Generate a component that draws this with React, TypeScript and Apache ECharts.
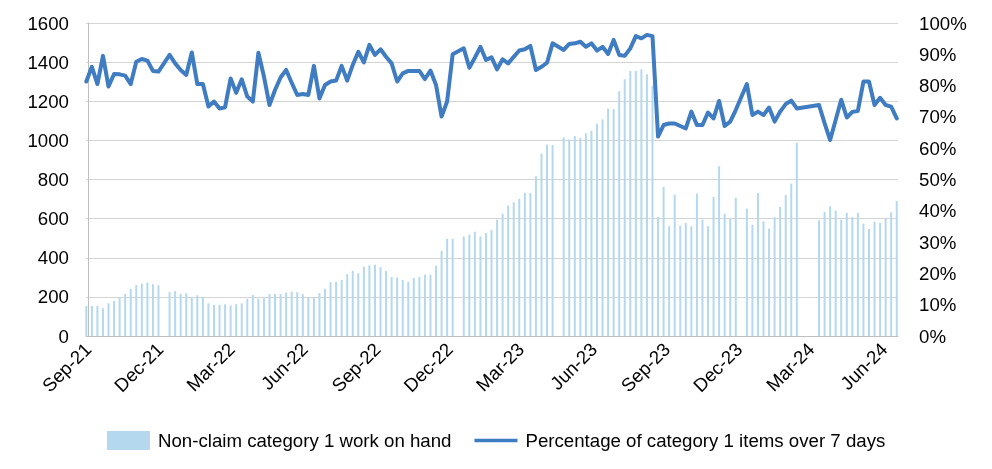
import React, { useEffect, useRef } from "react";
import * as echarts from "echarts";

// Weekly observations (first week starting Aug 30, 2021)
const firstWeek = [2021, 7, 30];

// Non-claim category 1 work on hand (null = no data that week)
const workOnHand: (number | null)[] = [
  154, 154, 154, 142, 167, 179, 197, 215, 241, 261, 268, 273, 265, 260, null,
  224, 229, 215, 219, 197, 208, 198, 167, 159, 159,
  162, 156, 162, 167, 190, 210, 191, 193, 215, 215, 215, 222, 227, 224, 214,
  198, 198, 219, 241, 275, 277, 287, 316, 333, 321,
  355, 361, 364, 352, 332, 301, 299, 287, 277, 296, 302, 314, 314, 359, 436,
  497, 497, null, 509, 518, 533, 509, 526, 542,
  595, 625, 667, 684, 701, 731, 731, 817, 933, 978, 976, null, 1015, 1005,
  1022, 1012, 1036, 1049, 1085, 1107, 1162, 1159, 1251, 1313, 1355,
  1355, 1364, 1338, 1280, 608, 762, 561, 723, 564, 578, 561, 728, 595, 561,
  711, 868, 625, 598, 706, null, 651, 569, 731, 586,
  549, 607, 660, 720, 779, 988, null, null, null, 591, 634, 663, 641, 595,
  629, 608, 629, 574, 547, 584, 578, 602, 632, 690,
];

// Percentage of category 1 items over 7 days
const pctOver7Days: (number | null)[] = [
  81.3, 86, 80.5, 89.5, 79.7, 83.7, 83.6, 83.2, 80.5, 87.6, 88.5, 88, 84.7,
  84.5, null, 89.8, 87.1, 85, 83.4, 90.6, 80.5, 80.5, 73.3, 74.9, 72.7,
  73.1, 82.3, 77.7, 82, 76.5, 74.9, 90.5, 82.9, 73.8, 78.6, 82.6, 85, 80.9,
  77, 77.3, 77, 86.3, 75.9, 80.2, 81.3, 81.6, 86.3, 81.6, 86.6, 90.8,
  87.4, 93, 89.8, 91.6, 89.2, 87.1, 81.3, 83.9, 84.7, 84.7, 84.7, 82.1, 84.8,
  80.2, 70.1, 74.9, 90, null, 91.9, 85.7, 88.9, 92.4, 88.2, 89,
  85.2, 88.4, 87.1, 89.2, 91.2, 91.6, 92.7, 85, 86, 87.3, 93.5, null, 91.4,
  93.3, 93.5, 94, 92.4, 93.5, 91.2, 92.4, 90.1, 94.6, 89.8, 89.5, 91.9,
  95.8, 95.1, 96.2, 95.8, 63.7, 67.4, 67.9, 67.9, 67.1, 66.3, 71.7, 67.4,
  67.4, 71.4, 69.5, 75.1, 67.1, 68.5, 72.2, null, 80.5, 70.6, 71.7, 70.6,
  73, 68.5, 71.7, 74.1, 75.2, 72.7, null, null, null, 73.8, 68, 62.6, 69,
  75.5, 69.8, 71.6, 71.9, 81.3, 81.3, 73.8, 76.1, 73.8, 73.3, 69.5,
];

// Quarterly tick labels on the date axis
const tickLabels = [
  "Sep-21", "Dec-21", "Mar-22", "Jun-22", "Sep-22", "Dec-22",
  "Mar-23", "Jun-23", "Sep-23", "Dec-23", "Mar-24", "Jun-24",
];
const firstTickMonth = [2021, 8]; // September 2021

const leftTicks = { min: 0, max: 1600, interval: 200 };
const rightTicks = { min: 0, max: 100, interval: 10 };

const barName = "Non-claim category 1 work on hand";
const lineName = "Percentage of category 1 items over 7 days";

export default function App() {
  const ref = useRef<HTMLDivElement>(null);

  useEffect(() => {
    if (!ref.current) return;
    const chart = echarts.init(ref.current, null, { renderer: "svg" });

    const day = 86400000;
    const origin = Date.UTC(firstTickMonth[0], firstTickMonth[1], 1);
    const toDay = (t: number) => Math.round((t - origin) / day);

    const weeks = workOnHand.map((_, i) =>
      toDay(Date.UTC(firstWeek[0], firstWeek[1], firstWeek[2] + 7 * i))
    );
    const tickDays = tickLabels.map((_, k) =>
      toDay(Date.UTC(firstTickMonth[0], firstTickMonth[1] + 3 * k, 1))
    );
    const labelMap = new Map<number, string>();
    tickDays.forEach((d, k) => labelMap.set(d, tickLabels[k]));

    const font = "'Liberation Sans', Arial, sans-serif";
    const fs = 18.67;
    const gridColor = "#D4D4D4";

    chart.setOption({
      animation: false,
      textStyle: { fontFamily: font },
      grid: { left: 86, right: 94, top: 23, bottom: 133, containLabel: false },
      legend: {
        left: 102,
        top: 426,
        itemWidth: 43,
        itemHeight: 19,
        itemGap: 23,
        textStyle: { fontSize: fs, color: "#000", fontFamily: font, padding: [0, 0, 0, 3] },
        data: [
          { name: barName, icon: "rect" },
          { name: lineName, icon: "path://M0,0 L46,0 L46,4 L0,4 Z" },
        ],
      },
      xAxis: {
        type: "value",
        min: weeks[0] - 0.4,
        max: weeks[weeks.length - 1] + 1.6,
        axisLine: { show: true, onZero: false, lineStyle: { color: "#BFBFBF", width: 1 } },
        axisTick: { show: false },
        splitLine: { show: false },
        axisLabel: {
          customValues: tickDays,
          rotate: 45,
          fontSize: fs,
          color: "#000",
          margin: 10,
          fontFamily: font,
          formatter: (v: number) => labelMap.get(Math.round(v)) ?? "",
        },
      },
      yAxis: [
        {
          type: "value",
          ...leftTicks,
          axisLine: { show: true, lineStyle: { color: "#BFBFBF", width: 1 } },
          axisTick: { show: false },
          splitLine: { show: true, lineStyle: { color: gridColor, width: 1 } },
          axisLabel: {
            fontSize: fs,
            color: "#000",
            margin: 17,
            fontFamily: font,
            formatter: (v: number) => String(v),
          },
        },
        {
          type: "value",
          ...rightTicks,
          axisLine: { show: false },
          axisTick: { show: false },
          splitLine: { show: false },
          axisLabel: {
            fontSize: fs,
            color: "#000",
            margin: 21,
            fontFamily: font,
            formatter: "{value}%",
          },
        },
      ],
      series: [
        {
          name: barName,
          type: "bar",
          yAxisIndex: 0,
          barWidth: 2,
          itemStyle: { color: "#B4D8EE" },
          data: weeks.map((d, i) => [d, workOnHand[i]]),
        },
        {
          name: lineName,
          type: "line",
          yAxisIndex: 1,
          symbol: "none",
          showSymbol: false,
          connectNulls: true,
          lineStyle: { color: "#3F7CC1", width: 4, cap: "round", join: "round" },
          itemStyle: { color: "#3F7CC1" },
          data: weeks.map((d, i) => [d, pctOver7Days[i]]),
          z: 3,
        },
      ],
    });

    return () => chart.dispose();
  }, []);

  return (
    <div
      ref={ref}
      style={{ position: "fixed", left: 0, top: 0, width: 992, height: 469 }}
    />
  );
}
